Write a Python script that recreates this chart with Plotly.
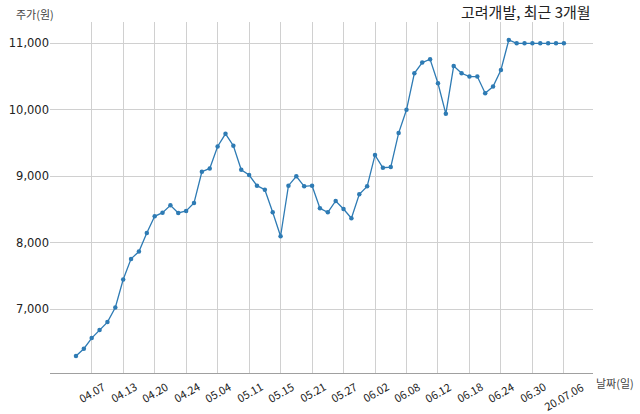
import plotly.graph_objects as go

# 거래일 (2020.04.03 ~ 2020.07.06)
dates = ["04.03", "04.06", "04.07", "04.08", "04.09", "04.10",
         "04.13", "04.14", "04.16", "04.17",
         "04.20", "04.21", "04.22", "04.23", "04.24",
         "04.27", "04.28", "04.29",
         "05.04", "05.06", "05.07", "05.08",
         "05.11", "05.12", "05.13", "05.14", "05.15",
         "05.18", "05.19", "05.20", "05.21", "05.22",
         "05.25", "05.26", "05.27", "05.28", "05.29",
         "06.01", "06.02", "06.03", "06.04", "06.05",
         "06.08", "06.09", "06.10", "06.11", "06.12",
         "06.15", "06.16", "06.17", "06.18", "06.19",
         "06.22", "06.23", "06.24", "06.25", "06.26",
         "06.29", "06.30", "07.01", "07.02", "07.03", "07.06"]

prices = [6300, 6410, 6570, 6690, 6810, 7030,
          7450, 7760, 7870, 8150,
          8400, 8455, 8565, 8450, 8480,
          8600, 9070, 9120,
          9450, 9640, 9460, 9100,
          9020, 8860, 8800, 8460, 8100,
          8860, 9000, 8850, 8860, 8520,
          8460, 8630, 8510, 8370, 8730,
          8850, 9320, 9130, 9140, 9650,
          10000, 10550, 10710, 10760, 10400,
          9940, 10660, 10550, 10500, 10500,
          10250, 10350, 10600, 11050, 11000,
          11000, 11000, 11000, 11000, 11000, 11000]

tick_dates = ["04.07", "04.13", "04.20", "04.24", "05.04", "05.11", "05.15",
              "05.21", "05.27", "06.02", "06.08", "06.12", "06.18", "06.24",
              "06.30", "07.06"]
tick_text = tick_dates[:-1] + ["20.07.06"]

y_ticks = [7000, 8000, 9000, 10000, 11000]

font_kr = "Noto Sans CJK KR, Malgun Gothic, sans-serif"

fig = go.Figure()
fig.add_trace(go.Scatter(
    x=dates, y=prices, mode="lines+markers",
    line=dict(color="#2e7bb4", width=1.3),
    marker=dict(color="#2e7bb4", size=4.5),
    hoverinfo="x+y",
))

fig.update_layout(
    width=640, height=414,
    margin=dict(l=50, r=47, t=22, b=41),
    plot_bgcolor="white", paper_bgcolor="white",
    showlegend=False,
    font=dict(family=font_kr, size=11, color="#222"),
    xaxis=dict(
        type="category",
        range=[-3.3, 65.7],
        tickmode="array", tickvals=tick_dates,
        showticklabels=False, automargin=False,
        showgrid=True, gridcolor="#d0d0d0", gridwidth=1,
        showline=True, linecolor="#a0a0a0", linewidth=1,
        ticks="", zeroline=False,
    ),
    yaxis=dict(
        range=[6045, 11320],
        tickmode="array", tickvals=y_ticks,
        tickformat=",d", automargin=False,
        tickfont=dict(family="DejaVu Sans", size=11.5, color="#222"),
        showgrid=True, gridcolor="#d0d0d0", gridwidth=1,
        showline=False, ticks="", zeroline=False,
    ),
)

# x축 눈금 라벨: 눈금 중앙 정렬, 30도 회전
for d, t in zip(tick_dates, tick_text):
    fig.add_annotation(text=t, x=dates.index(d), xref="x", y=0, yref="paper",
                       xanchor="center", yanchor="top", yshift=-4,
                       textangle=-30, borderpad=0, showarrow=False,
                       font=dict(size=11, color="#222"))

fig.add_annotation(text="고려개발, 최근 3개월", xref="paper", yref="paper",
                   x=1.0, y=1.0285, xanchor="right", yanchor="middle",
                   showarrow=False, font=dict(size=15, color="#222"))
fig.add_annotation(text="주가(원)", xref="paper", yref="paper",
                   x=0, y=1.022, xanchor="right", yanchor="middle", xshift=6,
                   showarrow=False, font=dict(size=11, color="#444"))
fig.add_annotation(text="날짜(일)", xref="paper", yref="paper",
                   x=1.0, y=-0.028, xanchor="left", yanchor="middle", xshift=1,
                   showarrow=False, font=dict(size=11, color="#444"))

# 페이지 기본 여백 제거, 모드바 숨김
fig.write_html("out.html", config={"displayModeBar": False},
               post_script="document.body.style.margin='0';")
